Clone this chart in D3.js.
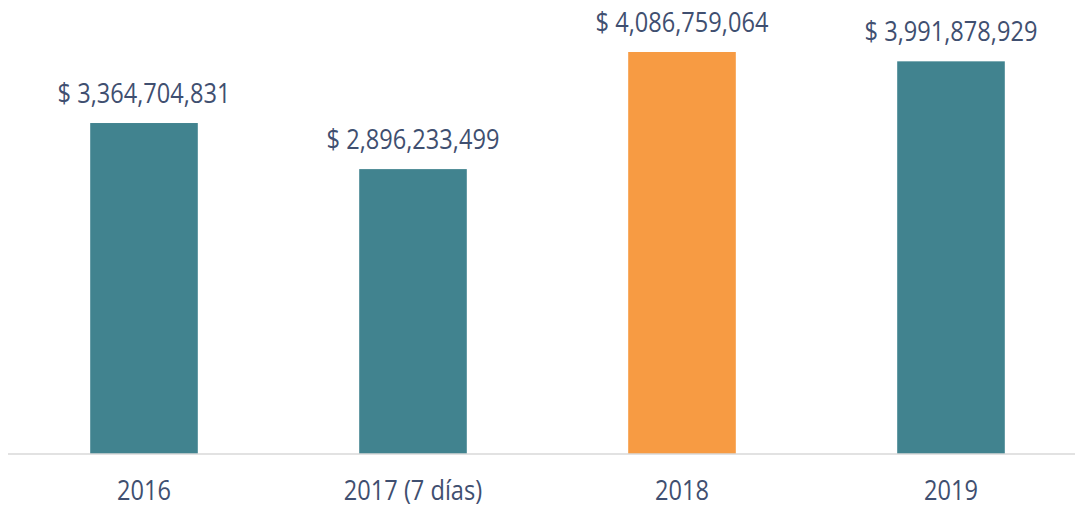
<!DOCTYPE html>
<html>
<head>
<meta charset="utf-8">
<script src="https://cdn.jsdelivr.net/npm/d3@7"></script>
<style>
  html, body { margin: 0; padding: 0; background: #fff; }
  svg { display: block; }
</style>
</head>
<body>
<svg id="chart" width="1075" height="506"></svg>
<script>
const categories = ["2016", "2017 (7 días)", "2018", "2019"];
const values = [3364704831, 2896233499, 4086759064, 3991878929];
const highlight = ["2018"];

const W = 1075, H = 506;
const baseline = 454;
const teal = "#41838f";
const orange = "#f79b43";
const textColor = "#3f4f70";
const fontFamily = "'Open Sans', 'Noto Sans', sans-serif";
const fontSize = 23.6;
const sy = 1.12;

const svg = d3.select("#chart");

const x = d3.scaleBand()
  .domain(categories)
  .range([9.5, 1085.5])
  .paddingInner(0.6)
  .paddingOuter(0.3);

const y = d3.scaleLinear()
  .domain([0, 4.5e9])
  .range([baseline, baseline - 4.5e9 * (402 / 4086759064)]);

const data = categories.map((c, i) => ({ c, v: values[i] }));

svg.selectAll("rect.bar")
  .data(data)
  .join("rect")
  .attr("class", "bar")
  .attr("x", d => x(d.c))
  .attr("width", x.bandwidth())
  .attr("y", d => y(d.v))
  .attr("height", d => y(0) - y(d.v))
  .attr("fill", d => highlight.includes(d.c) ? orange : teal);

// axis line
const xAxis = d3.axisBottom(x).tickSize(0).tickPadding(0).tickSizeOuter(0);
const gAxis = svg.append("g").attr("transform", `translate(0,${baseline})`).call(xAxis);
gAxis.select(".domain").remove();
gAxis.selectAll(".tick text").remove();
svg.append("line")
  .attr("x1", 8).attr("x2", 1075)
  .attr("y1", baseline).attr("y2", baseline)
  .attr("stroke", "#d9d9d9").attr("stroke-width", 1.5);

const fmt = d3.format(",");

// category labels
gAxis.selectAll(".tick").each(function(d) {
  d3.select(this).append("text")
    .attr("transform", `translate(0,${500 - baseline}) scale(1,${sy})`)
    .attr("text-anchor", "middle")
    .attr("fill", textColor)
    .style("font-family", fontFamily)
    .style("font-size", fontSize + "px")
    .text(d);
});

// value labels
svg.selectAll("text.val")
  .data(data)
  .join("text")
  .attr("class", "val")
  .attr("transform", d => `translate(${x(d.c) + x.bandwidth() / 2},${y(d.v) - 20}) scale(1,${sy})`)
  .attr("text-anchor", "middle")
  .attr("fill", textColor)
  .style("font-family", fontFamily)
  .style("font-size", fontSize + "px")
  .text(d => "$ " + fmt(d.v));
</script>
</body>
</html>
